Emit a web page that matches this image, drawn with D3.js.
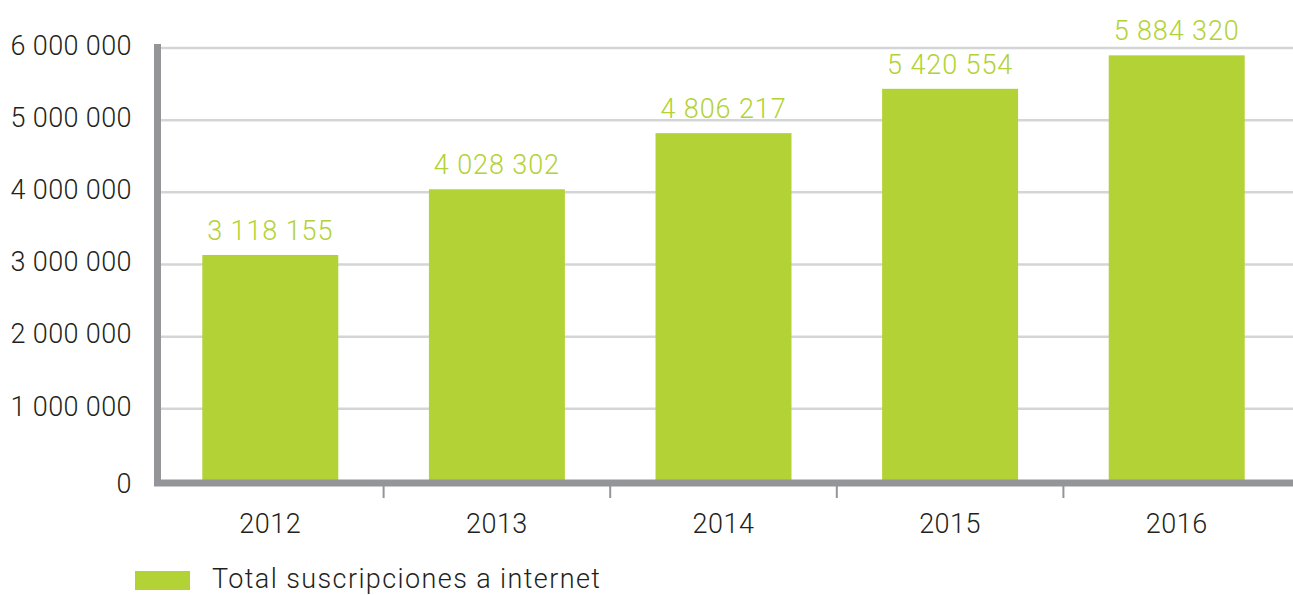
<!DOCTYPE html>
<html>
<head>
<meta charset="utf-8">
<script src="https://cdn.jsdelivr.net/npm/d3@7"></script>
<style>
  body { margin: 0; background: #fff; }
  text { font-family: Roboto, "Noto Sans", sans-serif; font-weight: 300; }
</style>
</head>
<body>
<div id="chart"></div>
<script>
const width = 1293, height = 595;

const years = ["2012", "2013", "2014", "2015", "2016"];
const subscriptions = [3118155, 4028302, 4806217, 5420554, 5884320];
const yTicks = [0, 1000000, 2000000, 3000000, 4000000, 5000000, 6000000];
const seriesName = "Total suscripciones a internet";

const green = "#b2d235";
const axisGray = "#939598";
const gridGray = "#d4d5d6";
const textColor = "#231f20";

const fmt = v => d3.format(",")(v).replace(/,/g, " ");

const svg = d3.select("#chart")
  .append("svg")
  .attr("width", width)
  .attr("height", height);

const x = d3.scaleBand()
  .domain(years)
  .range([157, 1290])
  .paddingInner(0.4)
  .paddingOuter(0.2);

const y = d3.scaleLinear()
  .domain([0, 6000000])
  .range([480, 47]);

// gridlines
svg.append("g")
  .selectAll("line")
  .data(yTicks.slice(1))
  .join("line")
  .attr("x1", 161)
  .attr("x2", width)
  .attr("y1", d => y(d) + 1)
  .attr("y2", d => y(d) + 1)
  .attr("stroke", gridGray)
  .attr("stroke-width", 2.5);

// y labels
svg.append("g")
  .selectAll("text")
  .data(yTicks)
  .join("text")
  .attr("x", 132)
  .attr("y", d => y(d) + (d === 0 ? 3 : -2))
  .attr("dy", "0.36em")
  .attr("text-anchor", "end")
  .attr("fill", textColor)
  .attr("font-size", 27)
  .attr("letter-spacing", 0.4)
  .text(d => fmt(d));

// bars
svg.append("g")
  .selectAll("rect")
  .data(subscriptions)
  .join("rect")
  .attr("x", (d, i) => x(years[i]))
  .attr("width", x.bandwidth())
  .attr("y", d => y(d))
  .attr("height", d => y(0) - y(d))
  .attr("fill", green);

// value labels
svg.append("g")
  .selectAll("text")
  .data(subscriptions)
  .join("text")
  .attr("x", (d, i) => x(years[i]) + x.bandwidth() / 2)
  .attr("y", d => y(d) - 15)
  .attr("text-anchor", "middle")
  .attr("fill", green)
  .attr("font-size", 27)
  .attr("letter-spacing", 0.9)
  .text(d => fmt(d));

// axes lines
svg.append("line")
  .attr("x1", 157.5).attr("x2", 157.5)
  .attr("y1", 44).attr("y2", 486)
  .attr("stroke", axisGray).attr("stroke-width", 7);
svg.append("line")
  .attr("x1", 154).attr("x2", width)
  .attr("y1", 483).attr("y2", 483)
  .attr("stroke", axisGray).attr("stroke-width", 7);

// x ticks between categories
svg.append("g")
  .selectAll("line")
  .data(years.slice(1))
  .join("line")
  .attr("x1", d => x(d) - x.step() * x.paddingInner() / 2)
  .attr("x2", d => x(d) - x.step() * x.paddingInner() / 2)
  .attr("y1", 486)
  .attr("y2", 498)
  .attr("stroke", axisGray)
  .attr("stroke-width", 2);

// x labels
svg.append("g")
  .selectAll("text")
  .data(years)
  .join("text")
  .attr("x", d => x(d) + x.bandwidth() / 2)
  .attr("y", 523)
  .attr("dy", "0.36em")
  .attr("text-anchor", "middle")
  .attr("fill", textColor)
  .attr("font-size", 27)
  .attr("letter-spacing", 0.5)
  .text(d => d);

// legend
const legend = svg.append("g").attr("transform", "translate(135,571)");
legend.append("rect")
  .attr("width", 55)
  .attr("height", 19)
  .attr("fill", green);
legend.append("text")
  .attr("x", 77)
  .attr("y", 7)
  .attr("dy", "0.36em")
  .attr("fill", textColor)
  .attr("font-size", 27)
  .attr("letter-spacing", 1.4)
  .text(seriesName);
</script>
</body>
</html>
